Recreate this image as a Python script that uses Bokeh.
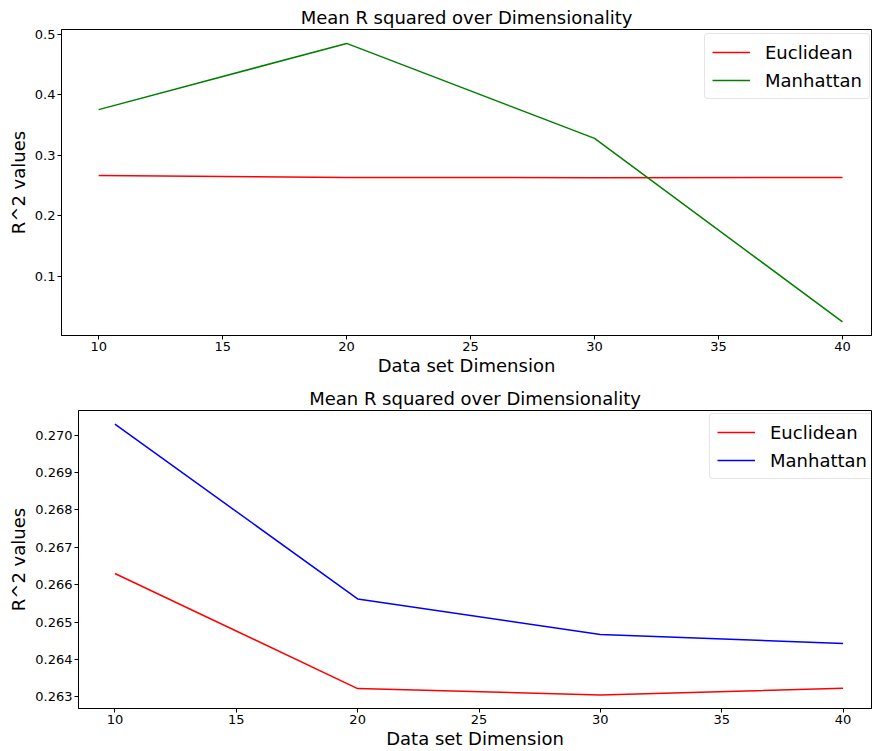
from bokeh.plotting import figure
from bokeh.models import FixedTicker, PrintfTickFormatter, Range1d, Legend, LegendItem
from bokeh.embed import file_html
from bokeh.resources import INLINE

dims = [10, 20, 30, 40]
top_euclidean = [0.2667, 0.2632, 0.2630, 0.2632]
top_manhattan = [0.3755, 0.4850, 0.3280, 0.0245]
bot_euclidean = [0.26630, 0.26322, 0.26305, 0.26323]
bot_manhattan = [0.27030, 0.26562, 0.26467, 0.26443]
x_ticks = [10, 15, 20, 25, 30, 35, 40]
top_y_ticks = [0.1, 0.2, 0.3, 0.4, 0.5]
bot_y_ticks = [0.263, 0.264, 0.265, 0.266, 0.267, 0.268, 0.269, 0.270]

TITLE = "Mean R squared over Dimensionality"
FONT = "DejaVu Sans"


def make_fig(height, yr, yticks, yfmt, left, top, bottom):
    p = figure(width=872, height=height, output_backend="svg", toolbar_location=None,
               x_range=Range1d(8.5, 41.17), y_range=Range1d(*yr),
               min_border_left=left, min_border_right=1, min_border_top=top,
               min_border_bottom=bottom, title=TITLE)
    p.title.text_font = FONT
    p.title.text_font_size = "18px"
    p.title.text_font_style = "normal"
    p.title.align = "center"
    p.title.text_color = "black"
    p.title.standoff = 4
    p.grid.visible = False
    p.outline_line_color = "black"
    p.outline_line_alpha = 1
    p.xaxis.ticker = FixedTicker(ticks=x_ticks)
    p.yaxis.ticker = FixedTicker(ticks=yticks)
    p.yaxis.formatter = PrintfTickFormatter(format=yfmt)
    p.xaxis.axis_label = "Data set Dimension"
    p.yaxis.axis_label = "R^2 values"
    for ax in (p.xaxis, p.yaxis):
        ax.axis_label_text_font = FONT
        ax.axis_label_text_font_size = "18px"
        ax.axis_label_text_font_style = "normal"
        ax.axis_label_text_color = "black"
        ax.major_label_text_font = FONT
        ax.major_label_text_font_size = "13px"
        ax.major_label_text_color = "black"
        ax.minor_tick_line_color = None
        ax.major_tick_in = 0
        ax.major_tick_out = 4
        ax.major_tick_line_color = "black"
        ax.axis_line_color = "black"
        ax.major_label_standoff = 2
    p.xaxis.axis_label_standoff = 1
    p.yaxis.axis_label_standoff = 3
    return p


def add_legend(p, renderers, loc):
    leg = Legend(items=[LegendItem(label="Euclidean", renderers=[renderers[0]]),
                        LegendItem(label="Manhattan", renderers=[renderers[1]])],
                 location=loc)
    leg.label_text_font = FONT
    leg.label_text_font_size = "18px"
    leg.label_text_color = "black"
    leg.glyph_width = 38
    leg.label_standoff = 15
    leg.padding = 7
    leg.spacing = 6
    leg.label_height = 22
    leg.glyph_height = 22
    leg.border_line_color = "#cccccc"
    leg.background_fill_alpha = 0.8
    leg.margin = 0
    if "border_radius" in leg.properties():
        leg.border_radius = 4
    p.add_layout(leg)


p1 = make_fig(378, (0.002, 0.508), top_y_ticks, "%.1f", 61, 29, 42)
r1 = p1.line(dims, top_euclidean, line_color="red", line_width=1.5)
r2 = p1.line(dims, top_manhattan, line_color="green", line_width=1.5)
add_legend(p1, [r1, r2], (643, 236))

p2 = make_fig(373, (0.262687, 0.270663), bot_y_ticks, "%.3f", 78, 32, 42)
r3 = p2.line(dims, bot_euclidean, line_color="red", line_width=1.5)
r4 = p2.line(dims, bot_manhattan, line_color="blue", line_width=1.5)
add_legend(p2, [r3, r4], (631, 229))

open("out.html", "w").write(file_html([p1, p2], INLINE))
